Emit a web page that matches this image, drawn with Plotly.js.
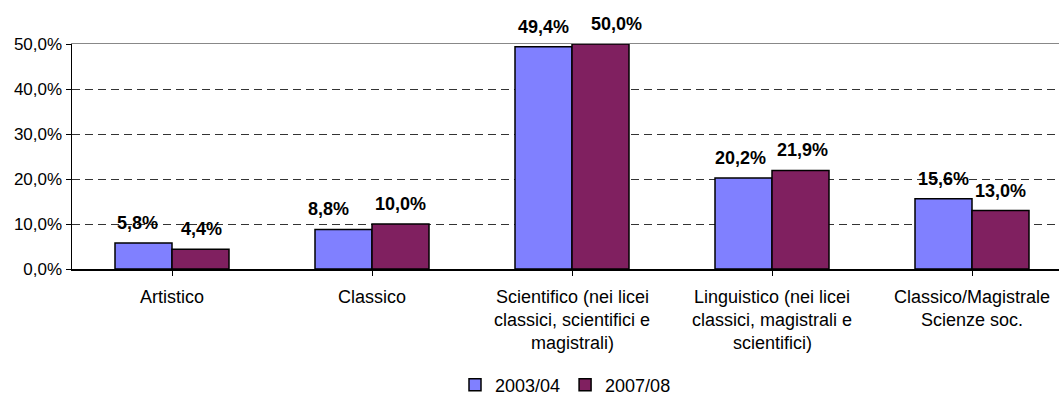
<!DOCTYPE html>
<html><head><meta charset="utf-8">
<script src="https://cdn.plot.ly/plotly-3.0.1.min.js"></script>
<style>html,body{margin:0;padding:0;background:#fff}#c{width:1059px;height:400px}</style>
</head><body><div id="c"></div>
<script>
const categories = ["Artistico", "Classico", "Scientifico (nei licei<br>classici, scientifici e<br>magistrali)", "Linguistico (nei licei<br>classici, magistrali e<br>scientifici)", "Classico/Magistrale<br>Scienze soc."];
const series1Name = "2003/04";
const series2Name = "2007/08";
const series1 = [5.8, 8.8, 49.4, 20.2, 15.6];
const series2 = [4.4, 10.0, 50.0, 21.9, 13.0];
const yTicks = [0, 10, 20, 30, 40, 50];

const idx = categories.map((c, i) => i);
const fmt = v => v.toFixed(1).replace('.', ',') + '%';
const FONT = 'Liberation Sans, Arial, sans-serif';
// label horizontal nudges (px), as placed in the original to avoid overlap
const nudge1 = [-6, -15, 0, -3, 0];
const nudge2 = [1, 0, 16, 2, 0];

const traces = [
  {type:'bar', name:series1Name, x:idx, y:series1, marker:{color:'#8080FF', line:{color:'#000', width:1.5}}, hoverinfo:'none'},
  {type:'bar', name:series2Name, x:idx, y:series2, marker:{color:'#802060', line:{color:'#000', width:1.5}}, hoverinfo:'none'},
  {type:'scatter', x:[0], y:[0], xaxis:'x2', showlegend:false, mode:'none', hoverinfo:'none'}
];

const annotations = [];
idx.forEach(i => {
  annotations.push({x:i, y:series1[i], xref:'x', yref:'y', text:'<b>'+fmt(series1[i])+'</b>', showarrow:false, xshift:-28.5 + nudge1[i], yanchor:'middle', yshift:20, font:{family:FONT, size:18, color:'#000'}});
  annotations.push({x:i, y:series2[i], xref:'x', yref:'y', text:'<b>'+fmt(series2[i])+'</b>', showarrow:false, xshift:28.5 + nudge2[i], yanchor:'middle', yshift:20, font:{family:FONT, size:18, color:'#000'}});
  categories[i].split('<br>').forEach((line, k) => {
    annotations.push({x:i, y:0, xref:'x', yref:'y', text:line, showarrow:false, yanchor:'middle', yshift:-28 - k*23, font:{family:FONT, size:18, color:'#000'}});
  });
});

const layout = {
  width:1059, height:400,
  margin:{l:72, r:0, t:44, b:131},
  paper_bgcolor:'#fff', plot_bgcolor:'#fff',
  font:{family:FONT, size:17, color:'#000'},
  separators:',.',
  barmode:'group', bargap:0.43, bargroupgap:0,
  showlegend:true,
  legend:{orientation:'h', x:0.5, xanchor:'center', yref:'container', y:0.0375, yanchor:'middle', font:{family:FONT, size:18, color:'#000'}, itemwidth:30, tracegroupgap:0},
  xaxis:{range:[-0.5, 4.435], tickmode:'array', tickvals:idx, showticklabels:false, ticks:'outside', tickson:'boundaries', ticklen:5, tickcolor:'#000', showline:true, linecolor:'#000', linewidth:1.5, showgrid:false, zeroline:false, fixedrange:true},
  xaxis2:{overlaying:'x', side:'top', range:[-0.5, 4.435], showline:true, linecolor:'#888', linewidth:1.5, showticklabels:false, ticks:'', showgrid:false, zeroline:false},
  yaxis:{range:[0, 50], tickmode:'array', tickvals:yTicks, ticktext:yTicks.map(v => v.toFixed(1).replace('.', ',') + '%'), ticks:'outside', ticklen:5, tickcolor:'#000', showline:true, linecolor:'#000', linewidth:1.5, showgrid:true, gridcolor:'#333', griddash:'8px,5px', gridwidth:1, zeroline:false, tickfont:{family:FONT, size:17, color:'#000'}},
  annotations:annotations
};
Plotly.newPlot('c', traces, layout, {displayModeBar:false, staticPlot:true});
</script></body></html>
